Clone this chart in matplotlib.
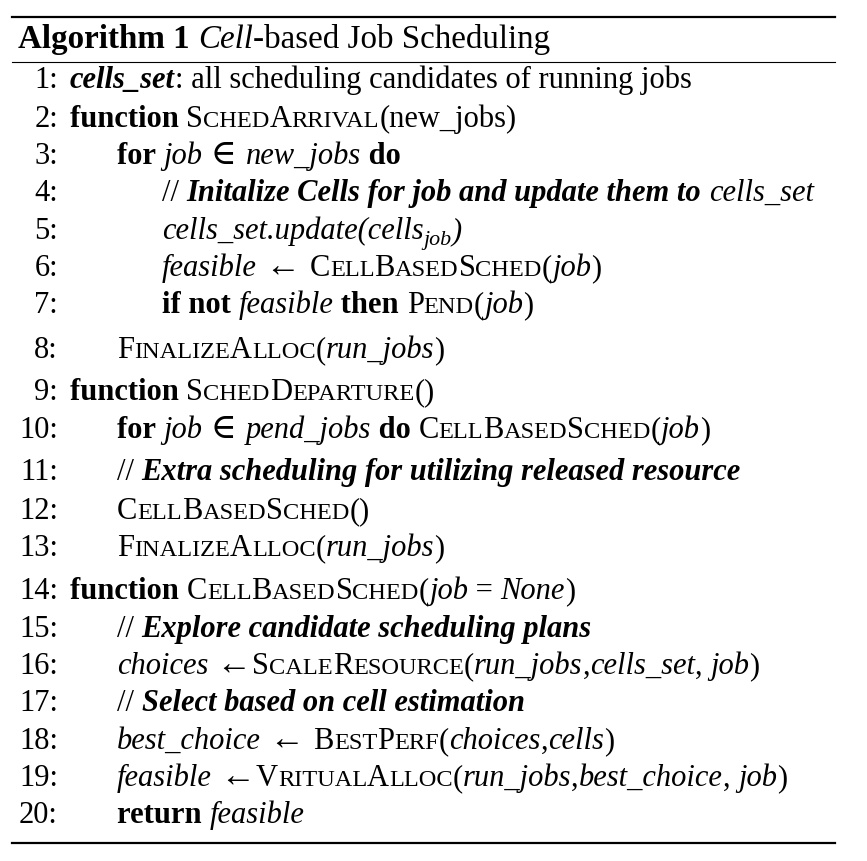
import matplotlib
matplotlib.use('Agg')
import matplotlib.pyplot as plt

W, H = 867, 861
FS = 22
FAMILY = ['Liberation Serif', 'DejaVu Serif']

title = [("Algorithm 1 ", "b"), ("Cell", "i"), ("-based Job Scheduling", "r")]

# (indent level, segments)
lines = [
    (0, [("cells_set", "bi"), (": all scheduling candidates of running jobs", "r")]),
    (0, [("function ", "b"), ("SchedArrival", "sc"), ("(new_jobs)", "r")]),
    (1, [("for ", "b"), ("job", "i"), (" ∈ ", "r"), ("new_jobs", "i"), (" do", "b")]),
    (2, [("// ", "r"), ("Initalize Cells for job and update them to ", "bi"), ("cells_set", "i")]),
    (2, [("cells_set.update(cells", "i"), ("job", "sub"), (")", "i")]),
    (2, [("feasible", "i"), (" ← ", "r"), ("CellBasedSched", "sc"), ("(", "r"), ("job", "i"), (")", "r")]),
    (2, [("if not ", "b"), ("feasible", "i"), (" then ", "b"), ("Pend", "sc"), ("(", "r"), ("job", "i"), (")", "r")]),
    (1, [("FinalizeAlloc", "sc"), ("(", "r"), ("run_jobs", "i"), (")", "r")]),
    (0, [("function ", "b"), ("SchedDeparture", "sc"), ("()", "r")]),
    (1, [("for ", "b"), ("job", "i"), (" ∈ ", "r"), ("pend_jobs", "i"), (" do ", "b"),
         ("CellBasedSched", "sc"), ("(", "r"), ("job", "i"), (")", "r")]),
    (1, [("// ", "r"), ("Extra scheduling for utilizing released resource", "bi")]),
    (1, [("CellBasedSched", "sc"), ("()", "r")]),
    (1, [("FinalizeAlloc", "sc"), ("(", "r"), ("run_jobs", "i"), (")", "r")]),
    (0, [("function ", "b"), ("CellBasedSched", "sc"), ("(", "r"), ("job", "i"), (" = ", "r"),
         ("None", "i"), (")", "r")]),
    (1, [("// ", "r"), ("Explore candidate scheduling plans", "bi")]),
    (1, [("choices", "i"), (" ←", "r"), ("ScaleResource", "sc"), ("(", "r"), ("run_jobs", "i"), (",", "r"),
         ("cells_set", "i"), (", ", "r"), ("job", "i"), (")", "r")]),
    (1, [("// ", "r"), ("Select based on cell estimation", "bi")]),
    (1, [("best_choice", "i"), (" ← ", "r"), ("BestPerf", "sc"), ("(", "r"), ("choices", "i"), (",", "r"),
         ("cells", "i"), (")", "r")]),
    (1, [("feasible", "i"), (" ←", "r"), ("VritualAlloc", "sc"), ("(", "r"), ("run_jobs", "i"), (",", "r"),
         ("best_choice", "i"), (", ", "r"), ("job", "i"), (")", "r")]),
    (1, [("return ", "b"), ("feasible", "i")]),
]

centers = [81, 120, 157, 194, 232, 269, 306, 351, 393, 431, 473, 512, 549, 592, 630, 667, 704, 742, 779, 816]
indent_x = [70, 117, 162]

fig = plt.figure(figsize=(W / 100, H / 100), dpi=100)
fig.patch.set_facecolor('white')
renderer = fig.canvas.get_renderer()


def put(x, y, s, size, weight='normal', style='normal', ha='left'):
    if s.strip() in ('←', '∈'):
        size = size * 1.15
    t = fig.text(x / W, 1 - y / H, s, fontsize=size, fontweight=weight, fontstyle=style,
                 family=FAMILY, ha=ha, va='baseline', color='black')
    return t.get_window_extent(renderer).width


def draw_line(x, y, segs, fs):
    for s, kind in segs:
        if kind == 'sc':
            # small caps: uppercase letters full size, lowercase as smaller capitals
            run = ''
            for ch in s:
                if ch.isupper():
                    if run:
                        x += put(x, y, run.upper(), fs * 0.8)
                        run = ''
                    x += put(x, y, ch, fs)
                else:
                    run += ch
            if run:
                x += put(x, y, run.upper(), fs * 0.8)
        elif kind == 'sub':
            x += put(x, y + 6, s, fs * 0.72, style='italic')
        else:
            weight = 'bold' if 'b' in kind else 'normal'
            style = 'italic' if 'i' in kind else 'normal'
            x += put(x, y, s, fs, weight, style)


draw_line(18, 48, title, FS * 1.08)
for i, ((lvl, segs), c) in enumerate(zip(lines, centers)):
    base = c + 7
    put(58, base, f"{i + 1}:", FS, ha='right')
    draw_line(indent_x[lvl], base, segs, FS)

for y, lw in [(17, 1.6), (62, 0.8), (843, 1.6)]:
    fig.add_artist(plt.Line2D([12 / W, 835 / W], [1 - y / H, 1 - y / H], color='black', lw=lw))

fig.savefig('out.png', dpi=100, facecolor='white')
